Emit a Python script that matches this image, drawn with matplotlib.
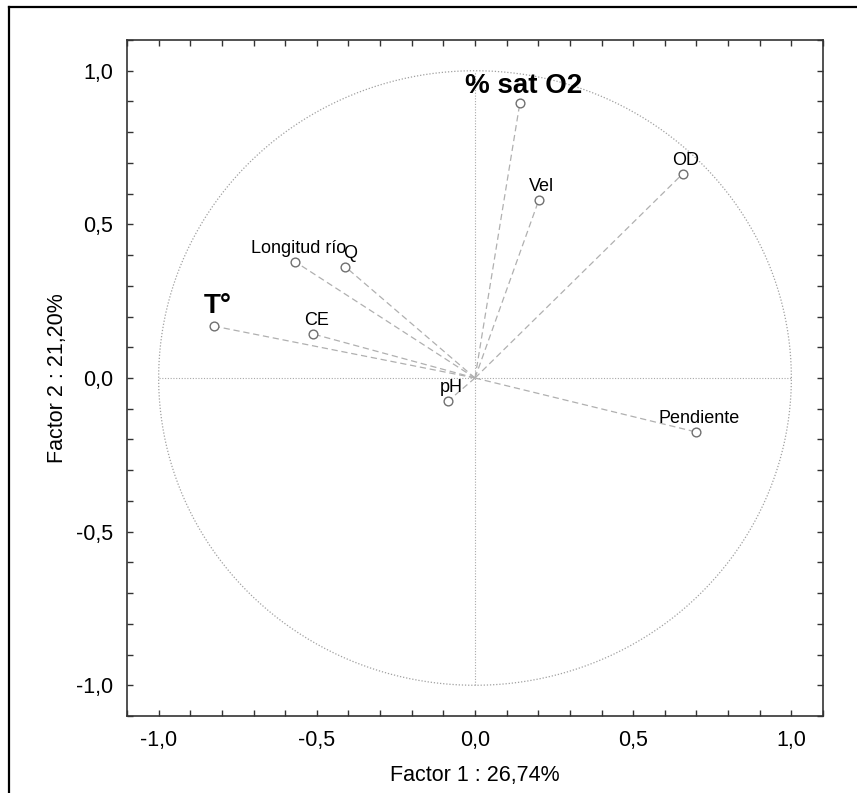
import matplotlib.pyplot as plt
import numpy as np
from matplotlib.lines import Line2D
from matplotlib.ticker import MultipleLocator, FuncFormatter

plt.rcParams['font.family'] = ['Liberation Sans', 'DejaVu Sans']

# Loadings (Factor 1, Factor 2)
variables = ['% sat O2', 'Vel', 'OD', 'Longitud río', 'Q', 'T°', 'CE', 'pH', 'Pendiente']
factor1 = [0.142, 0.202, 0.656, -0.568, -0.410, -0.826, -0.511, -0.085, 0.700]
factor2 = [0.896, 0.580, 0.664, 0.378, 0.362, 0.169, 0.143, -0.075, -0.176]
highlight = ['% sat O2', 'T°']

xlabel = 'Factor 1 : 26,74%'
ylabel = 'Factor 2 : 21,20%'

fig = plt.figure(figsize=(8.57, 7.93), dpi=100)
ax = fig.add_axes([127 / 857, 1 - 716 / 793, 696 / 857, 676 / 793])

# unit circle and cross lines
t = np.linspace(0, 2 * np.pi, 400)
ax.plot(np.cos(t), np.sin(t), color='#a0a0a0', lw=0.9, ls=(0, (1, 1.5)))
ax.plot([-1, 1], [0, 0], color='#a8a8a8', lw=0.8, ls=(0, (1, 1.5)))
ax.plot([0, 0], [-1, 1], color='#a8a8a8', lw=0.8, ls=(0, (1, 1.5)))

# vectors from origin
for x, y in zip(factor1, factor2):
    ax.plot([0, x], [0, y], color='#b0b0b0', lw=0.9, ls=(0, (5, 3)))

ax.plot(factor1, factor2, 'o', ms=6.3, mfc='white', mec='#707070', mew=1.0, zorder=5)

for name, x, y in zip(variables, factor1, factor2):
    if name in highlight:
        off = 13 if name == 'T°' else 10
        ax.annotate(name, (x, y), xytext=(4, off), textcoords='offset pixels',
                    ha='center', va='baseline', fontsize=20, fontweight='bold')
    else:
        dx = 5 if name == 'Q' else 3
        ax.annotate(name, (x, y), xytext=(dx, 9), textcoords='offset pixels',
                    ha='center', va='baseline', fontsize=13)

ax.set_xlim(-1.1, 1.1)
ax.set_ylim(-1.1, 1.1)

for a in (ax.xaxis, ax.yaxis):
    a.set_major_locator(MultipleLocator(0.5))
    a.set_minor_locator(MultipleLocator(0.1))
    a.set_major_formatter(FuncFormatter(lambda v, p: f'{v:.1f}'.replace('.', ',').replace('-0,0', '0,0')))

ax.tick_params(which='both', direction='in', top=True, right=True, length=4, width=1,
               color='#333333', labelsize=15.5, pad=10)
for s in ax.spines.values():
    s.set_color('#333333')
    s.set_linewidth(1.2)

ax.set_xlabel(xlabel, fontsize=15.5, labelpad=10)
ax.set_ylabel(ylabel, fontsize=15.5, labelpad=6)

# outer frame (only top and left visible in the crop)
fig.add_artist(Line2D([9 / 857, 1], [1 - 7 / 793, 1 - 7 / 793], color='black', lw=1.6,
                      transform=fig.transFigure))
fig.add_artist(Line2D([9 / 857, 9 / 857], [0, 1 - 7 / 793], color='black', lw=1.6,
                      transform=fig.transFigure))

fig.savefig('out.png', dpi=100)
